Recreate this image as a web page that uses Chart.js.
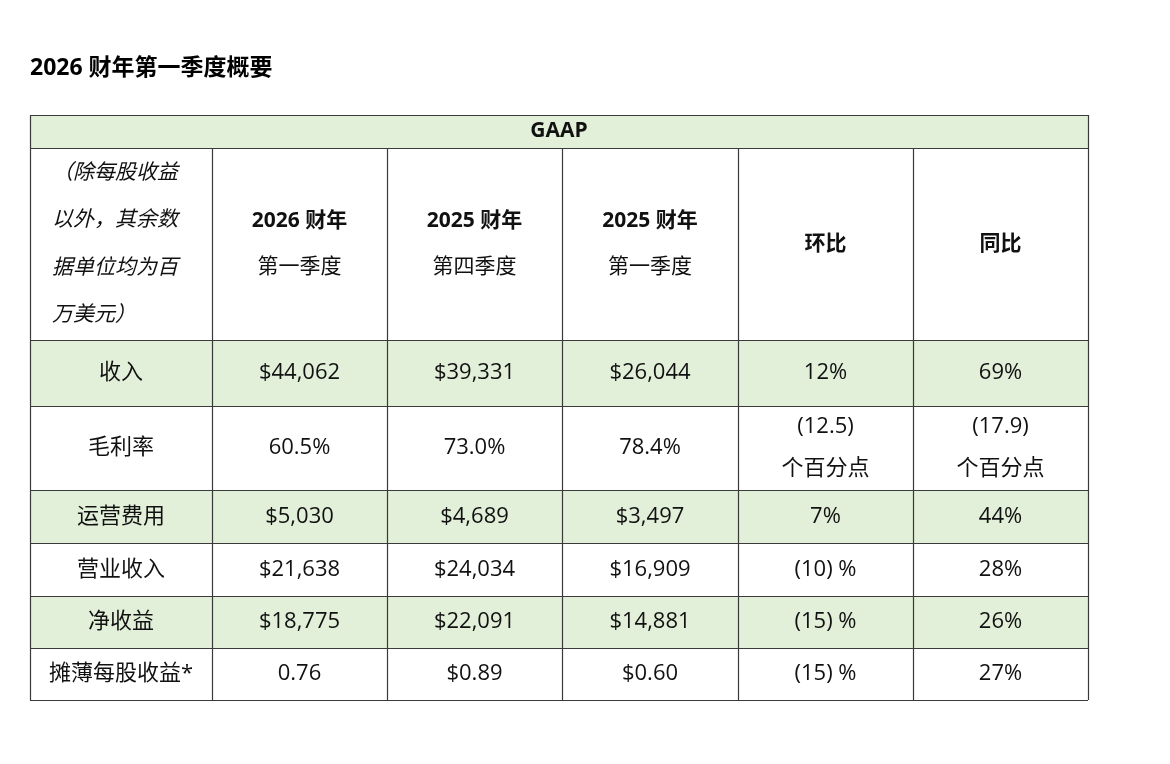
<!DOCTYPE html>
<html><head><meta charset="utf-8">
<script src="https://cdn.jsdelivr.net/npm/chart.js@4"></script>
<style>html,body{margin:0;background:#fff}#c{display:block}</style></head>
<body><canvas id="c" width="1170" height="764"></canvas>
<script>
const title = "2026 财年第一季度概要";
const groupLabel = "GAAP";
const cornerLabel = ["（除每股收益", "以外，其余数", "据单位均为百", "万美元）"];
const columnHeaders = [["2026 财年","第一季度"],["2025 财年","第四季度"],["2025 财年","第一季度"],["环比"],["同比"]];
const categories = ["收入","毛利率","运营费用","营业收入","净收益","摊薄每股收益*"];
const q1fy26 = ["$44,062","60.5%","$5,030","$21,638","$18,775","0.76"];
const q4fy25 = ["$39,331","73.0%","$4,689","$24,034","$22,091","$0.89"];
const q1fy25 = ["$26,044","78.4%","$3,497","$16,909","$14,881","$0.60"];
const qoq = ["12%",["(12.5)","个百分点"],"7%","(10) %","(15) %","(15) %"];
const yoy = ["69%",["(17.9)","个百分点"],"44%","28%","26%","27%"];
const shadedRows = [true,false,true,false,true,false];

const colEdges = [0,182,357,532,708,883,1058];
const rowEdges = [0,33,225,291,375,428,481,533,585];
const FONT = '"Open Sans","Noto Sans CJK SC",sans-serif';
const GREEN = '#e2efd9', LINE = '#3a3a3a';

const tablePlugin = {
  id:'table',
  afterDraw(chart){
    const ctx = chart.ctx, xs = chart.scales.x, ys = chart.scales.y;
    const X = v => xs.getPixelForValue(v), Y = v => ys.getPixelForValue(v);
    ctx.save();
    ctx.fillStyle='#000'; ctx.font='bold 23px '+FONT; ctx.textBaseline='middle'; ctx.textAlign='left';
    ctx.fillText(title, 30, 68);
    ctx.fillStyle=GREEN;
    ctx.fillRect(X(0),Y(rowEdges[0]),X(1058)-X(0),Y(rowEdges[1])-Y(rowEdges[0]));
    shadedRows.forEach((s,i)=>{ if(s) ctx.fillRect(X(0),Y(rowEdges[i+2]),X(1058)-X(0),Y(rowEdges[i+3])-Y(rowEdges[i+2])); });
    ctx.strokeStyle=LINE; ctx.lineWidth=1.2;
    rowEdges.forEach(r=>{ctx.beginPath();ctx.moveTo(X(0),Math.round(Y(r))+0.5);ctx.lineTo(X(1058),Math.round(Y(r))+0.5);ctx.stroke();});
    colEdges.forEach((c,i)=>{ctx.beginPath();const y0=(i===0||i===colEdges.length-1)?Y(0):Y(rowEdges[1]);ctx.moveTo(Math.round(X(c))+0.5,y0);ctx.lineTo(Math.round(X(c))+0.5,Y(585));ctx.stroke();});
    ctx.fillStyle='#111'; ctx.textAlign='center';
    const cx = i => (X(colEdges[i])+X(colEdges[i+1]))/2;
    const cy = i => (Y(rowEdges[i])+Y(rowEdges[i+1]))/2;
    ctx.font='bold 21px '+FONT;
    ctx.fillText(groupLabel,(X(0)+X(1058))/2,cy(0));
    ctx.font='italic 21px '+FONT; ctx.textAlign='left';
    cornerLabel.forEach((t,k)=>ctx.fillText(t,X(0)+22,Y(rowEdges[1])+25+k*47.5));
    ctx.textAlign='center';
    columnHeaders.forEach((h,i)=>{
      if(h.length===2){
        ctx.font='bold 21px '+FONT; ctx.fillText(h[0],cx(i+1),cy(1)-23);
        ctx.font='21px '+FONT; ctx.fillText(h[1],cx(i+1),cy(1)+23);
      } else { ctx.font='bold 21px '+FONT; ctx.fillText(h[0],cx(i+1),cy(1)); }
    });
    ctx.font='22px '+FONT;
    const cols=[categories,q1fy26,q4fy25,q1fy25,qoq,yoy];
    categories.forEach((_,r)=>{
      cols.forEach((col,c)=>{
        const v=col[r], y=cy(r+2);
        if(Array.isArray(v)){ctx.fillText(v[0],cx(c),y-21);ctx.fillText(v[1],cx(c),y+21);}
        else ctx.fillText(v,cx(c),y);
      });
    });
    ctx.restore();
  }
};

new Chart(document.getElementById('c'),{
  type:'scatter',
  data:{datasets:[{data:[]}]},
  options:{responsive:false,animation:false,
    layout:{padding:{left:30,right:82,top:115,bottom:64}},
    plugins:{legend:{display:false},tooltip:{enabled:false}},
    scales:{x:{type:'linear',min:0,max:1058,display:false},
            y:{type:'linear',min:0,max:585,reverse:true,display:false}}},
  plugins:[tablePlugin]
});
</script></body></html>
